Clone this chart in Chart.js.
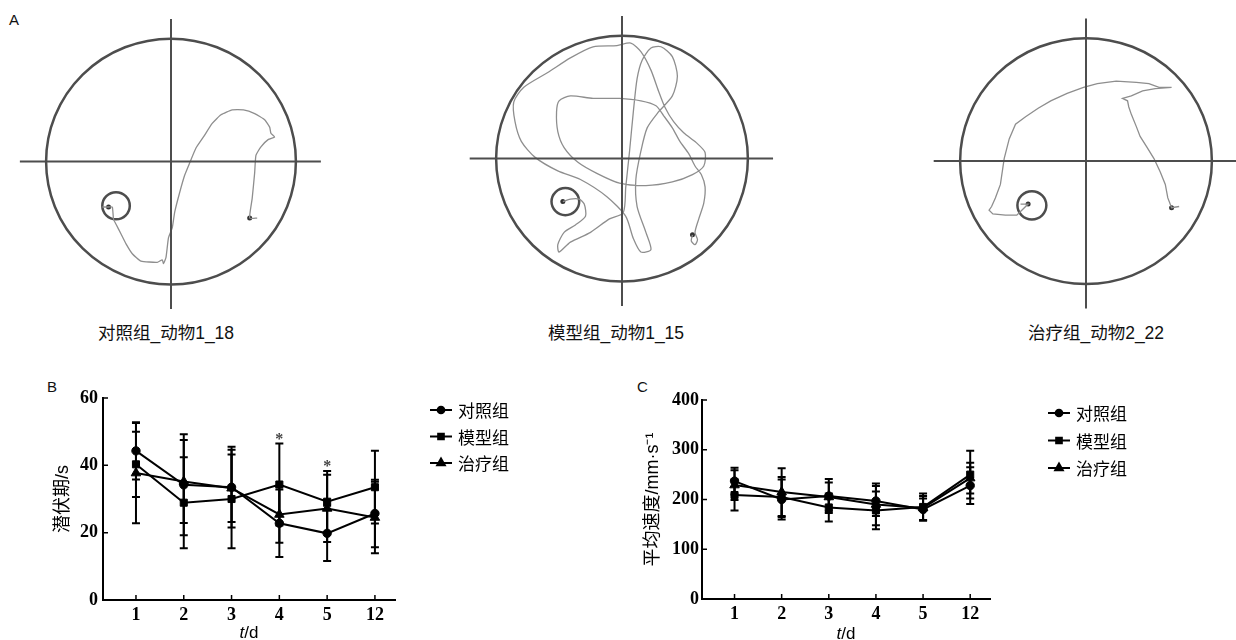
<!DOCTYPE html>
<html>
<head>
<meta charset="utf-8">
<script src="https://cdn.jsdelivr.net/npm/chart.js@4.4.1/dist/chart.umd.min.js"></script>
<style>
  body { margin: 0; width: 1236px; height: 640px; overflow: hidden; background: #fff; position: relative; font-family: "Liberation Sans", sans-serif; }
  canvas { position: absolute; }
  .letter { position: absolute; font-size: 15px; line-height: 15px; color: #111; }
  .cap { position: absolute; top: 323px; font-family: "Liberation Sans", "Noto Sans CJK SC", sans-serif; font-size: 17.5px; line-height: 20px; color: #111; transform: translateX(-50%); white-space: nowrap; }
</style>
</head>
<body>
<div class="letter" style="left:9px;top:12px">A</div>
<div class="letter" style="left:47px;top:379px">B</div>
<div class="letter" style="left:637px;top:379px">C</div>
<div class="cap" style="left:166px">对照组_动物1_18</div>
<div class="cap" style="left:616px">模型组_动物1_15</div>
<div class="cap" style="left:1096px">治疗组_动物2_22</div>

<canvas id="pool1"></canvas>
<canvas id="pool2"></canvas>
<canvas id="pool3"></canvas>
<canvas id="latency" width="600" height="260" style="left:0;top:380px"></canvas>
<canvas id="speed" width="636" height="260" style="left:600px;top:380px"></canvas>

<script>
// ---- panel B / C data ----
const dayLabels = ["1", "2", "3", "4", "5", "12"];
const dayPos = [1, 2, 3, 4, 5, 6];
const groupNames = ["对照组", "模型组", "治疗组"];

const latencyCtrl = [44.3, 34.2, 33.5, 22.8, 19.8, 25.7];
const latencyModel = [40.3, 28.9, 30.0, 34.3, 29.2, 33.5];
const latencyTreat = [37.7, 35.2, 33.2, 25.4, 27.2, 24.5];
const latencyCtrlSd = [8.5, 15.0, 12.0, 10.0, 8.2, 10.0];
const latencyModelSd = [9.7, 13.5, 14.6, 12.2, 9.1, 10.8];
const latencyTreatSd = [14.9, 12.3, 10.0, 8.4, 10.0, 10.6];
const sigPos = [4, 5];
const sigLatency = [48.5, 40.5];

const speedCtrl = [237, 200, 207, 197, 180, 228];
const speedModel = [209, 205, 184, 178, 185, 250];
const speedTreat = [229, 215, 205, 190, 183, 243];
const speedCtrlSd = [27, 40, 34, 30, 22, 37];
const speedModelSd = [31, 40, 28, 38, 27, 48];
const speedTreatSd = [30, 48, 29, 42, 24, 31];

// ---- panel A swim paths (pool radius = 100, centre = 0,0) ----
const poolCircle = [0, 0, 100];
const crossRange = [-121, 120];
const crossRangeV = [-120, 116];

const track1 = [[69,-46],[63,-46],[65,-30],[67,-9],[68,5],[72,12],[78,18],[83,20],[80,23],[79,28],[75,34],[67,39],[58,42],[49,42],[40,38],[33,31],[26,20],[20,11],[15,-1],[11,-11],[7,-25],[3,-41],[1,-54],[-2,-62],[-4,-78],[-6,-83],[-7,-80],[-11,-82],[-24,-81],[-31,-75],[-36,-67],[-40,-59],[-44,-51],[-46,-47],[-47,-37],[-50,-37],[-55,-37]];
const start1 = [63, -46];
const end1 = [-50, -37];
const goal1 = [-44, -36, 11];

const track2 = [[56,-62],[55,-67],[58,-70],[60,-66],[58,-60],[61,-49],[65,-36],[66,-23],[63,-13],[58,-6],[53,4],[46,14],[40,25],[33,35],[27,43],[15,47],[-2,49],[-23,49],[-41,51],[-50,47],[-52,38],[-51,22],[-46,9],[-35,-3],[-20,-12],[-2,-20],[19,-22],[40,-19],[56,-13],[65,-6],[66,5],[59,13],[49,21],[41,30],[34,42],[29,55],[23,72],[15,87],[7,94],[-4,92],[-23,91],[-41,82],[-59,70],[-78,58],[-86,46],[-85,30],[-80,14],[-69,1],[-51,-10],[-33,-17],[-12,-31],[3,-47],[9,-65],[15,-76],[23,-74],[19,-60],[12,-39],[11,-17],[15,6],[20,25],[29,38],[40,51],[44,67],[40,83],[31,91],[23,90],[16,80],[12,65],[9,38],[6,6],[3,-23],[1,-44],[-10,-49],[-25,-60],[-41,-68],[-50,-76],[-51,-70],[-46,-60],[-37,-54],[-29,-47],[-30,-37],[-34,-33],[-41,-33],[-47,-35]];
const start2 = [56, -62];
const end2 = [-47, -35];
const goal2 = [-45, -35, 11];

const track3 = [[74,-37],[68,-38],[65,-30],[63,-19],[59,-9],[54,2],[48,12],[43,20],[40,28],[36,38],[34,44],[33,49],[29,51],[36,53],[45,57],[55,59],[68,60],[58,60],[50,63],[40,64],[24,65],[9,63],[-2,60],[-15,55],[-28,49],[-38,43],[-48,36],[-56,30],[-61,18],[-65,2],[-68,-19],[-72,-30],[-75,-37],[-77,-40],[-74,-43],[-64,-44],[-55,-44],[-51,-40],[-46,-35],[-52,-35]];
const start3 = [68, -38];
const end3 = [-46, -35];
const goal3 = [-43, -36, 11.5];

// ---------- panel A ----------
function circlePlugin(circles) {
  return {
    id: "pool",
    beforeDatasetsDraw(chart) {
      const { ctx, scales: { x, y } } = chart;
      ctx.save();
      ctx.strokeStyle = "#4d4d4d";
      ctx.lineWidth = 2.5;
      circles.forEach(c => {
        const cx = x.getPixelForValue(c[0]);
        const cy = y.getPixelForValue(c[1]);
        const rx = Math.abs(x.getPixelForValue(c[0] + c[2]) - cx);
        const ry = Math.abs(y.getPixelForValue(c[1] + c[2]) - cy);
        ctx.beginPath();
        ctx.ellipse(cx, cy, rx, ry, 0, 0, Math.PI * 2);
        ctx.stroke();
      });
      ctx.restore();
    }
  };
}

function poolChart(id, geo, track, start, end, goal) {
  const cv = document.getElementById(id);
  const w = 330, h = 325;
  cv.width = w;
  cv.height = h;
  cv.style.left = (geo.cx - w / 2) + "px";
  cv.style.top = "0px";
  const toXY = p => ({ x: p[0], y: p[1] });
  new Chart(cv, {
    type: "scatter",
    data: {
      datasets: [
        { data: crossRange.map(v => ({ x: v, y: 0 })), showLine: true, borderColor: "#4d4d4d", borderWidth: 2, pointRadius: 0 },
        { data: crossRangeV.map(v => ({ x: 0, y: v })), showLine: true, borderColor: "#4d4d4d", borderWidth: 2, pointRadius: 0 },
        { data: track.map(toXY), showLine: true, borderColor: "#8e8e8e", borderWidth: 1.3, pointRadius: 0, tension: geo.tension },
        { data: [start, end].map(toXY), pointRadius: 2.5, backgroundColor: "#333", borderWidth: 0 }
      ]
    },
    options: {
      responsive: false,
      animation: false,
      events: [],
      layout: { padding: 0 },
      plugins: { legend: { display: false }, tooltip: { enabled: false } },
      scales: {
        x: { type: "linear", display: false, min: -(w / 2) / geo.sx, max: (w / 2) / geo.sx },
        y: { type: "linear", display: false, min: -(h - geo.cy) / geo.sy, max: geo.cy / geo.sy }
      }
    },
    plugins: [circlePlugin([poolCircle, goal])]
  });
}

poolChart("pool1", { cx: 171, cy: 161.5, sx: 1.28, sy: 1.26, tension: 0.15 }, track1, start1, end1, goal1);
poolChart("pool2", { cx: 622, cy: 158.5, sx: 1.29, sy: 1.26, tension: 0.25 }, track2, start2, end2, goal2);
poolChart("pool3", { cx: 1085.5, cy: 161, sx: 1.29, sy: 1.26, tension: 0 }, track3, start3, end3, goal3);

// ---------- panels B and C ----------
const markers = ["circle", "rect", "triangle"];
const markerSize = [4.2, 5, 5.5];

const errorBars = {
  id: "errorBars",
  beforeDatasetsDraw(chart) {
    const { ctx, scales: { x, y } } = chart;
    ctx.save();
    ctx.strokeStyle = "#000";
    ctx.lineWidth = 2;
    chart.data.datasets.forEach(d => {
      d.data.forEach((p, i) => {
        const px = x.getPixelForValue(p.x);
        const top = y.getPixelForValue(p.y + d.sd[i]);
        const bot = y.getPixelForValue(p.y - d.sd[i]);
        ctx.beginPath();
        ctx.moveTo(px, top); ctx.lineTo(px, bot);
        ctx.moveTo(px - 4, top); ctx.lineTo(px + 4, top);
        ctx.moveTo(px - 4, bot); ctx.lineTo(px + 4, bot);
        ctx.stroke();
      });
    });
    ctx.restore();
  }
};

const innerTicks = {
  id: "innerTicks",
  afterDraw(chart) {
    const { ctx, chartArea: a, scales: { x, y } } = chart;
    ctx.save();
    ctx.strokeStyle = "#000";
    ctx.lineWidth = 1.5;
    ctx.beginPath();
    y.ticks.forEach(t => {
      const py = y.getPixelForValue(t.value);
      ctx.moveTo(a.left, py); ctx.lineTo(a.left + 5, py);
    });
    x.ticks.forEach(t => {
      const px = x.getPixelForValue(t.value);
      ctx.moveTo(px, a.bottom); ctx.lineTo(px, a.bottom - 5);
    });
    ctx.stroke();
    ctx.restore();
  }
};

function extrasPlugin(cfg) {
  return {
    id: "extras",
    afterDraw(chart) {
      const { ctx, chartArea: a, scales: { x, y } } = chart;
      ctx.save();
      ctx.fillStyle = "#000";
      ctx.textBaseline = "middle";
      // x title: italic t + /d
      const cx = (a.left + a.right) / 2;
      ctx.font = "italic 17px 'Liberation Sans'";
      const wt = ctx.measureText("t").width;
      ctx.font = "17px 'Liberation Sans'";
      const wd = ctx.measureText("/d").width;
      let tx = cx - (wt + wd) / 2;
      ctx.textAlign = "left";
      ctx.font = "italic 17px 'Liberation Sans'";
      ctx.fillText("t", tx, cfg.titleY);
      ctx.font = "17px 'Liberation Sans'";
      ctx.fillText("/d", tx + wt, cfg.titleY);

      // legend
      chart.data.datasets.forEach((d, i) => {
        const ly = cfg.legendTop + i * cfg.legendGap;
        ctx.strokeStyle = "#000";
        ctx.lineWidth = 2;
        ctx.beginPath();
        ctx.moveTo(cfg.legendLeft, ly);
        ctx.lineTo(cfg.legendLeft + 22, ly);
        ctx.stroke();
        Chart.helpers.drawPoint(ctx, { pointStyle: d.pointStyle, radius: d.pointRadius * 0.8, borderWidth: 1, rotation: 0 }, cfg.legendLeft + 11, ly);
        ctx.fillStyle = "#000";
        ctx.font = "17px 'Noto Sans CJK SC'";
        ctx.textAlign = "left";
        ctx.fillText(d.label, cfg.legendLeft + 28, ly + 1);
      });

      // significance marks
      if (cfg.sigPos) {
        ctx.fillStyle = "#444";
        ctx.font = "bold 16px 'Liberation Serif'";
        ctx.textAlign = "center";
        cfg.sigPos.forEach((p, i) => {
          ctx.fillText("*", x.getPixelForValue(p), y.getPixelForValue(cfg.sigVal[i]) + 3);
        });
      }
      ctx.restore();
    }
  };
}

function errorChart(id, cfg) {
  const datasets = groupNames.map((name, g) => ({
    label: name,
    data: dayPos.map((p, i) => ({ x: p, y: cfg.means[g][i] })),
    sd: cfg.sds[g],
    borderColor: "#000",
    backgroundColor: "#000",
    borderWidth: 2,
    pointStyle: markers[g],
    pointRadius: markerSize[g],
    pointBorderWidth: 1,
    tension: 0
  }));
  const tickFont = { family: "Liberation Serif", size: 18, weight: "bold" };
  new Chart(document.getElementById(id), {
    type: "line",
    data: { datasets },
    options: {
      responsive: false,
      animation: false,
      events: [],
      layout: { padding: { left: 0, top: cfg.padTop, right: cfg.padRight, bottom: 0 } },
      plugins: { legend: { display: false }, tooltip: { enabled: false } },
      scales: {
        x: {
          type: "linear",
          min: 0.31,
          max: 6.42,
          grid: { display: false, drawTicks: false },
          border: { display: true, color: "#000", width: 2 },
          afterBuildTicks: s => { s.ticks = dayPos.map(v => ({ value: v })); },
          afterFit: s => { s.height = cfg.xHeight; },
          ticks: { color: "#000", font: tickFont, padding: 5, autoSkip: false, maxRotation: 0, callback: (v, i) => dayLabels[i] }
        },
        y: {
          min: 0,
          max: cfg.yMax,
          grid: { display: false, drawTicks: false },
          border: { display: true, color: "#000", width: 2 },
          afterFit: s => { s.width = cfg.yWidth; },
          ticks: { color: "#000", font: tickFont, padding: cfg.yPad, stepSize: cfg.yStep },
          title: {
            display: true,
            text: cfg.yTitle,
            color: "#000",
            font: { family: "'Liberation Sans', 'Noto Sans CJK SC'", size: 18 },
            padding: { top: cfg.yTitlePad, bottom: 0 }
          }
        }
      }
    },
    plugins: [errorBars, innerTicks, extrasPlugin(cfg)]
  });
}

errorChart("latency", {
  means: [latencyCtrl, latencyModel, latencyTreat],
  sds: [latencyCtrlSd, latencyModelSd, latencyTreatSd],
  yMax: 60, yStep: 20, yTitle: "潜伏期/s",
  padTop: 18, padRight: 205, xHeight: 40, yWidth: 103, yPad: 5, yTitlePad: 52,
  titleY: 253, legendLeft: 430, legendTop: 30, legendGap: 26.5,
  sigPos: sigPos, sigVal: sigLatency
});

errorChart("speed", {
  means: [speedCtrl, speedModel, speedTreat],
  sds: [speedCtrlSd, speedModelSd, speedTreatSd],
  yMax: 400, yStep: 100, yTitle: "平均速度/mm·s⁻¹",
  padTop: 20, padRight: 246, xHeight: 41, yWidth: 102, yPad: 3, yTitlePad: 42,
  titleY: 254, legendLeft: 448, legendTop: 33, legendGap: 27.5
});
</script>
</body>
</html>
